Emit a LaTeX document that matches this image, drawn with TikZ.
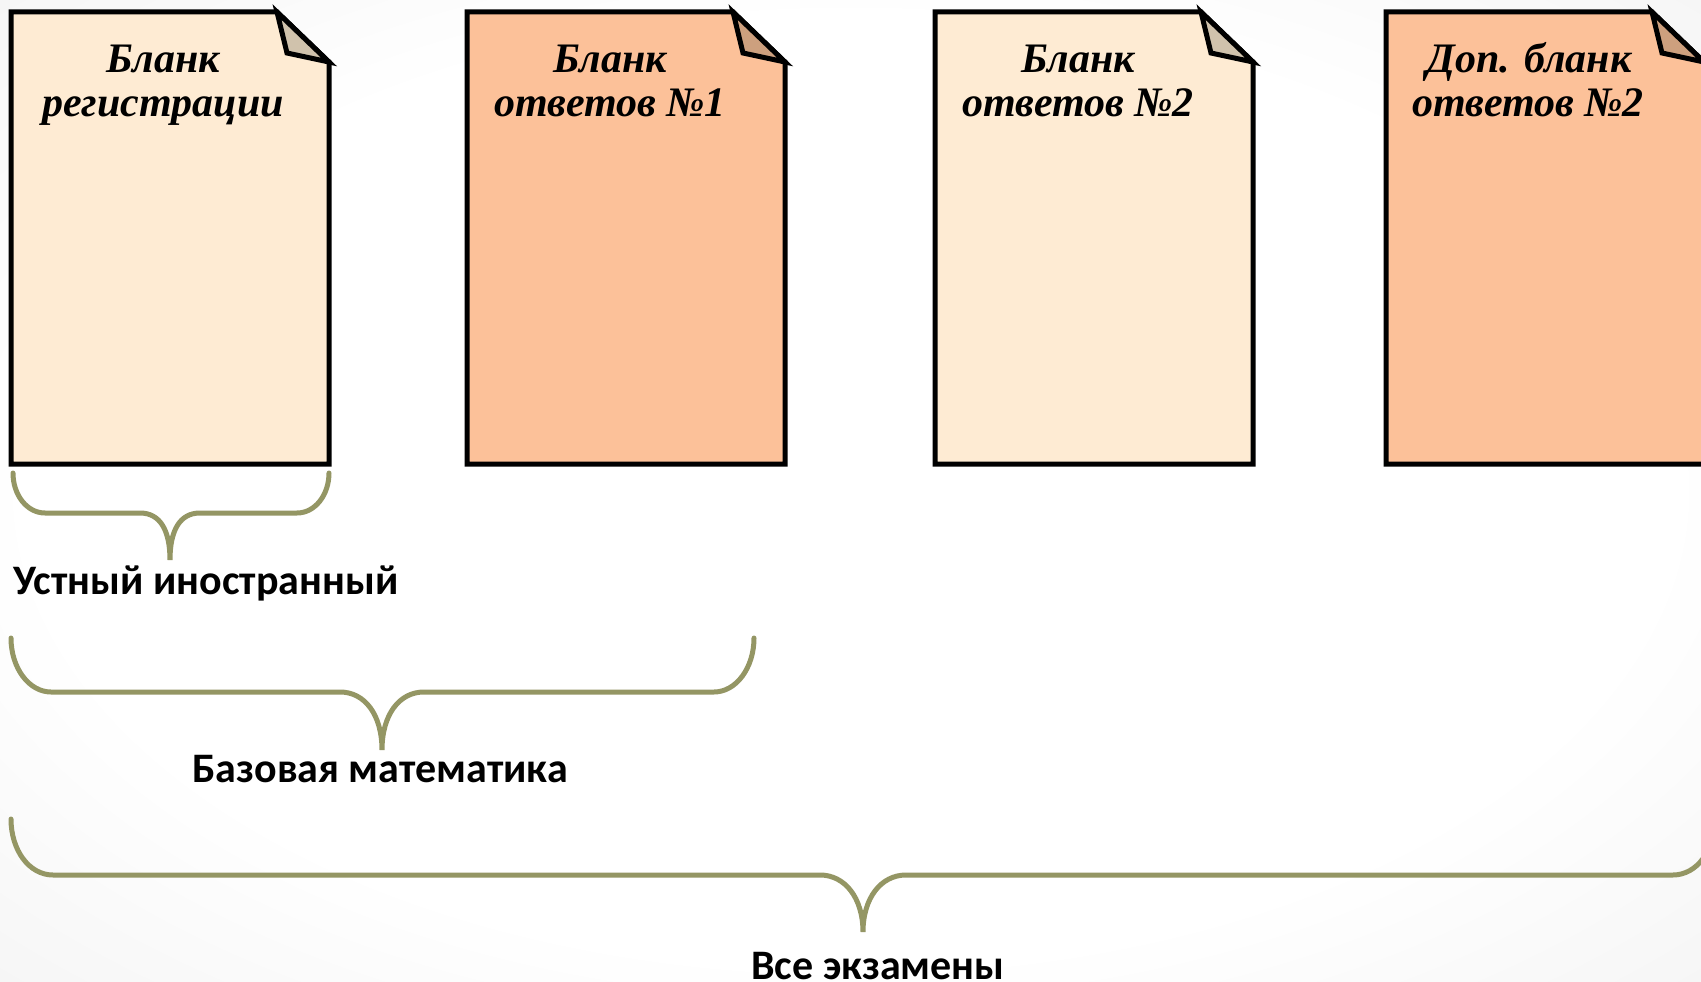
\documentclass[tikz,border=0pt]{standalone}
\usepackage{fontspec}
\setmainfont{Liberation Serif}
\newfontfamily\lblfont{Carlito}
\newfontfamily\docfont{Liberation Serif}
\definecolor{bracecol}{RGB}{148,150,100}
\definecolor{paleA}{RGB}{254,235,211}
\definecolor{paleFold}{RGB}{208,194,172}
\definecolor{orangeA}{RGB}{252,193,153}
\definecolor{orangeFold}{RGB}{205,160,126}
\pgfdeclareradialshading{bgshade}{\pgfpoint{0bp}{0bp}}{color(0bp)=(white); color(24bp)=(white); color(50bp)=(black!8); color(72bp)=(black!16)}
\tikzset{
  docline/.style={draw=black, line width=5pt, line join=miter},
  doctitle/.style={anchor=base, inner sep=0pt, font=\docfont\bfseries\itshape\fontsize{42}{44}\selectfont},
  bracestyle/.style={draw=bracecol, line width=5pt, line cap=round},
  bracelabel/.style={anchor=base, inner sep=0pt, font=\lblfont\bfseries\fontsize{42}{44}\selectfont}
}
\newcommand\docsheet[3]{%
  \draw[docline, fill=#2] (#1,12) -- (#1+266,12) -- (#1+318,62) -- (#1+318,464) -- (#1,464) -- cycle;
  \draw[docline, fill=#3] (#1+266,12) -- (#1+276,53) -- (#1+318,62) -- cycle;
}
\begin{document}
\begin{tikzpicture}[x=1pt,y=-1pt]
\useasboundingbox (0,0) rectangle (1701,982);
\shade[shading=bgshade] (0,0) rectangle (1701,982);

\docsheet{11}{paleA}{paleFold}
\docsheet{467}{orangeA}{orangeFold}
\docsheet{935}{paleA}{paleFold}
\docsheet{1386}{orangeA}{orangeFold}

\node[doctitle] (d1a) at (163,73) {Бланк};
\node[doctitle] (d1b) at (163,117) {регистрации};
\node[doctitle] (d2a) at (610,73) {Бланк};
\node[doctitle] (d2b) at (610,117) {ответов №1};
\node[doctitle] (d3a) at (1078,73) {Бланк};
\node[doctitle] (d3b) at (1078,117) {ответов №2};
\node[doctitle] (d4a) at (1529,73) {Доп. бланк};
\node[doctitle] (d4b) at (1528,117) {ответов №2};

\draw[bracestyle] (13,473) .. controls (13,495) and (27,513) .. (45,513) -- (140,513)
  .. controls (160,513) and (170,530) .. (170,560)
  .. controls (170,530) and (180,513) .. (200,513) -- (297,513)
  .. controls (315,513) and (329,495) .. (329,473);
\draw[bracestyle] (11,638) .. controls (11,668) and (29,692) .. (51,692) -- (340,692)
  .. controls (365,692) and (382,715) .. (382,750)
  .. controls (382,715) and (399,692) .. (424,692) -- (714,692)
  .. controls (736,692) and (754,668) .. (754,638);
\draw[bracestyle] (11,819) .. controls (11,850) and (29,875) .. (53,875) -- (820,875)
  .. controls (845,875) and (863,898) .. (863,932)
  .. controls (863,898) and (881,875) .. (906,875) -- (1673,875)
  .. controls (1697,875) and (1715,850) .. (1715,819);

\node[bracelabel] (l1) at (206,594) {Устный иностранный};
\node[bracelabel] (l2) at (380,782) {Базовая математика};
\node[bracelabel] (l3) at (878,979) {Все экзамены};
\end{tikzpicture}
\end{document}
